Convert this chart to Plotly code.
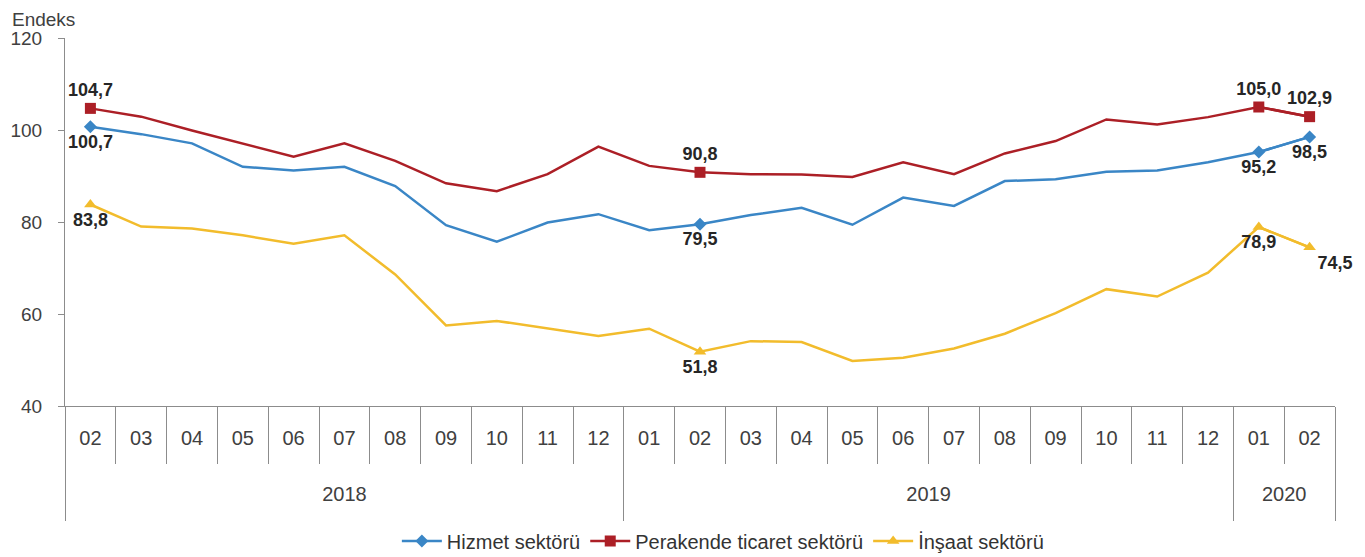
import plotly.graph_objects as go

ZW = "\u200b"
years = ["2018"] * 11 + ["2019"] * 12 + ["2020"] * 2
months = ["02", "03", "04", "05", "06", "07", "08", "09", "10", "11", "12",
          "01", "02", "03", "04", "05", "06", "07", "08", "09", "10", "11", "12",
          "01", "02"]
# 2018 month labels get a zero-width suffix so the multicategory axis keeps chronological order;
# blank extra lines give the two label rows the reference's spacing
months_axis = [m + (ZW if y == "2018" else "")
               + "<br>&nbsp;<br><span style='baseline-shift:6px'>&nbsp;</span>"
               for y, m in zip(years, months)]
years_axis = [y + "<br><span style='baseline-shift:11px'>&nbsp;</span>" for y in years]

hizmet = [100.7, 99.1, 97.1, 92.0, 91.2, 92.0, 87.8, 79.3, 75.7, 79.9, 81.7,
          78.2, 79.5, 81.5, 83.1, 79.4, 85.3, 83.5, 88.9, 89.3, 90.9, 91.2, 93.0,
          95.2, 98.5]
perakende = [104.7, 102.9, 99.9, 97.0, 94.2, 97.1, 93.3, 88.4, 86.7, 90.4, 96.4,
             92.2, 90.8, 90.4, 90.3, 89.8, 93.0, 90.4, 94.9, 97.6, 102.3, 101.2, 102.8,
             105.0, 102.9]
insaat = [83.8, 79.0, 78.6, 77.1, 75.3, 77.1, 68.6, 57.5, 58.5, 56.8, 55.2,
          56.8, 51.8, 54.1, 53.9, 49.8, 50.5, 52.5, 55.7, 60.2, 65.4, 63.8, 69.0,
          78.9, 74.5]

labeled_idx = [0, 12, 23, 24]

series = [
    ("Hizmet sektörü", hizmet, "#3A86C6", "diamond",
     {0: "bottom center", 12: "bottom center", 23: "bottom center", 24: "bottom center"}),
    ("Perakende ticaret sektörü", perakende, "#AC1F26", "square",
     {0: "top center", 12: "top center", 23: "top center", 24: "top center"}),
    ("İnşaat sektörü", insaat, "#F2BC2C", "triangle-up",
     {0: "bottom center", 12: "bottom center", 23: "bottom center", 24: "bottom right"}),
]

FONT = "Liberation Sans, Arial, sans-serif"
fig = go.Figure()

for name, vals, color, sym, pos in series:
    fig.add_trace(go.Scatter(
        x=[years_axis, months_axis], y=vals, mode="lines", name=name,
        line=dict(color=color, width=2.5), showlegend=False, hoverinfo="skip",
    ))

for name, vals, color, sym, pos in series:
    ys = [v if i in labeled_idx else None for i, v in enumerate(vals)]
    txt = [f"{v:.1f}".replace(".", ",") if i in labeled_idx else "" for i, v in enumerate(vals)]
    tpos = [pos.get(i, "top center") for i in range(len(vals))]
    fig.add_trace(go.Scatter(
        x=[years_axis, months_axis], y=ys, mode="lines+markers+text", name=name,
        line=dict(color=color, width=2.5),
        marker=dict(symbol=sym, size=11 if sym != "diamond" else 10, color=color),
        text=txt, textposition=tpos,
        textfont=dict(family=FONT, size=18, color="#262626", weight="bold"),
        cliponaxis=False, connectgaps=False,
    ))

# the page body adds an 8px offset, so the figure is 8px smaller on each axis
fig.update_layout(
    width=1357, height=549,
    margin=dict(l=57, r=30, t=30, b=151, autoexpand=False),
    paper_bgcolor="white", plot_bgcolor="white",
    font=dict(family=FONT, color="#404040"),
    showlegend=True,
    legend=dict(orientation="h", x=0.518, xanchor="center", y=-0.367, yanchor="middle",
                font=dict(family=FONT, size=20, color="#333333"),
                traceorder="normal", tracegroupgap=0, itemwidth=40),
    annotations=[dict(text="Endeks", xref="paper", yref="paper", x=-0.0433, y=1.049,
                      xanchor="left", yanchor="middle", showarrow=False,
                      font=dict(family=FONT, size=19, color="#404040"))],
)

fig.update_yaxes(range=[40, 120], tickvals=[40, 60, 80, 100, 120], showgrid=False,
                 zeroline=False, showline=True, linecolor="#8C8C8C", linewidth=1,
                 ticks="outside", ticklen=6, tickcolor="#8C8C8C", automargin=False,
                 ticklabelstandoff=12,
                 tickfont=dict(family=FONT, size=19, color="#404040"))
fig.update_xaxes(type="multicategory", range=[-0.5, 24.5], showgrid=False, zeroline=False,
                 showline=True, linecolor="#8C8C8C", linewidth=1, automargin=False,
                 ticks="outside", ticklen=57, tickcolor="#8C8C8C",
                 ticklabelstandoff=14,
                 showdividers=True, dividercolor="#8C8C8C", dividerwidth=1,
                 tickfont=dict(family=FONT, size=20, color="#404040"))

fig.write_html("out.html")
